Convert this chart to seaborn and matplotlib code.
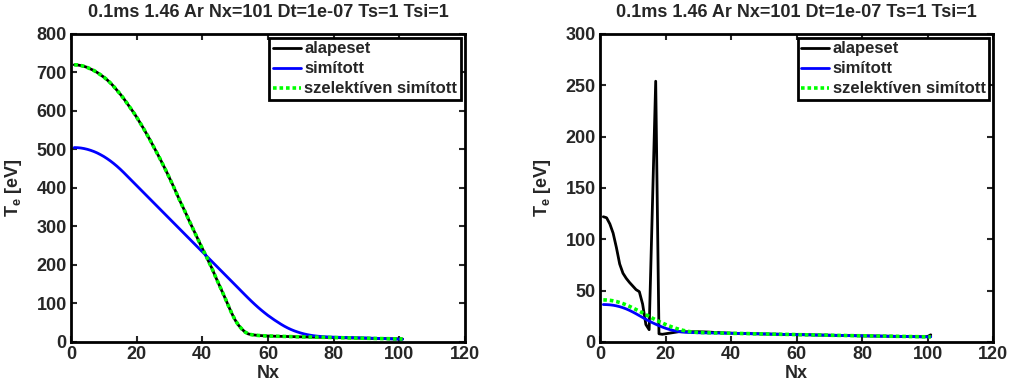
import matplotlib
matplotlib.use("Agg")
import matplotlib.pyplot as plt
import seaborn as sns
import pandas as pd

# Grid index (cells)
nx = list(range(1, 102))

# Left panel: electron temperature profiles [eV]
alapeset_left = [
    720, 719.5, 718, 716, 713, 709, 705, 700, 694, 688,
    681, 673, 664, 654, 644, 633, 621, 609, 597, 584,
    570, 556, 541, 526, 510, 494, 478, 461, 444, 426,
    408, 389, 370, 352, 334, 315, 297, 279, 261, 243,
    226, 208, 190, 170, 151, 132, 113, 93, 74, 57,
    44, 34, 26, 21, 19, 18, 17, 16.5, 16, 15.6,
    15.3, 15.0, 14.8, 14.6, 14.4, 14.2, 14.0, 13.8, 13.6, 13.4,
    13.2, 13.0, 12.8, 12.6, 12.4, 12.3, 12.1, 12.0, 11.8, 11.6,
    11.4, 11.2, 11.0, 10.8, 10.6, 10.4, 10.2, 10.0, 9.8, 9.7,
    9.5, 9.3, 9.2, 9.0, 8.8, 8.7, 8.5, 8.3, 8.2, 8.0, 7.9,
]
simitott_left = [
    505, 504.7, 503.9, 502.4, 500.4, 497.8, 494.7, 491, 486.6, 481.8,
    476.3, 470.3, 463.7, 456.6, 448.9, 440.7, 432.1, 423.5, 414.9, 406.3,
    397.7, 389.1, 380.5, 371.9, 363.3, 354.7, 346.1, 337.5, 328.9, 320.3,
    311.7, 303.1, 294.5, 285.9, 277.3, 268.7, 260.1, 251.5, 242.9, 234.3,
    225.7, 217.1, 208.5, 199.9, 191.3, 182.7, 174.1, 165.5, 156.9, 148.3,
    139.7, 131, 122.4, 113.9, 105.6, 97.6, 89.9, 82.6, 75.7, 69,
    63, 57, 51.5, 46, 41, 36.5, 32.5, 29, 26, 23.3,
    21, 19.1, 17.5, 16.2, 15.2, 14.4, 13.8, 13.3, 12.9, 12.6,
    12.3, 12.1, 11.9, 11.7, 11.5, 11.3, 11.1, 10.9, 10.7, 10.4,
    10.1, 9.8, 9.5, 9.2, 8.9, 8.6, 8.3, 8.0, 7.7, 7.4, 7.1,
]
szelektiv_left = list(alapeset_left)

# Right panel: electron temperature profiles [eV]
alapeset_right = [
    122, 121, 115, 106, 92, 76, 67, 62, 58, 54.5,
    51, 49, 37, 17, 12, 133, 254, 8, 7.5, 8,
    8.5, 9, 9.5, 10, 10, 10, 10, 10, 10, 10,
    9.9, 9.8, 9.7, 9.5, 9.3, 9.2, 9.0, 8.9, 8.7, 8.6,
    8.5, 8.4, 8.3, 8.2, 8.2, 8.1, 8.0, 8.0, 7.9, 7.8,
    7.8, 7.7, 7.6, 7.6, 7.5, 7.4, 7.4, 7.3, 7.3, 7.2,
    7.1, 7.1, 7.0, 7.0, 6.9, 6.8, 6.8, 6.7, 6.7, 6.6,
    6.5, 6.5, 6.4, 6.4, 6.3, 6.2, 6.2, 6.1, 6.1, 6.0,
    6.0, 5.9, 5.9, 5.8, 5.8, 5.7, 5.7, 5.6, 5.6, 5.5,
    5.5, 5.4, 5.4, 5.3, 5.3, 5.2, 5.2, 5.1, 5.1, 5.3, 7.0,
]
simitott_right = [
    36.5, 36.4, 36.2, 35.8, 35.2, 34.4, 33.4, 32.2, 30.8, 29.2,
    27.5, 25.7, 23.9, 22.1, 20.4, 18.8, 17.3, 15.9, 14.6, 13.4,
    12.4, 11.5, 10.8, 10.2, 9.8, 9.5, 9.3, 9.2, 9.1, 9.0,
    8.9, 8.9, 8.8, 8.8, 8.7, 8.7, 8.6, 8.6, 8.5, 8.5,
    8.4, 8.4, 8.3, 8.2, 8.2, 8.1, 8.0, 8.0, 7.9, 7.8,
    7.8, 7.7, 7.6, 7.6, 7.5, 7.4, 7.4, 7.3, 7.3, 7.2,
    7.1, 7.1, 7.0, 7.0, 6.9, 6.8, 6.8, 6.7, 6.7, 6.6,
    6.5, 6.5, 6.4, 6.4, 6.3, 6.2, 6.2, 6.1, 6.1, 6.0,
    6.0, 5.9, 5.9, 5.8, 5.8, 5.7, 5.7, 5.6, 5.6, 5.5,
    5.5, 5.4, 5.4, 5.3, 5.3, 5.2, 5.2, 5.1, 5.1, 5.0, 5.0,
]
szelektiv_right = [
    41, 40.9, 40.6, 40.1, 39.4, 38.5, 37.4, 36.1, 34.7, 33.2,
    31.6, 30.0, 28.3, 26.6, 24.9, 23.2, 21.6, 20.0, 18.5, 17.1,
    15.8, 14.6, 13.5, 12.5, 11.6, 10.9, 10.3, 9.8, 9.5, 9.3,
    9.2, 9.1, 9.0, 8.9, 8.8, 8.8, 8.7, 8.6, 8.6, 8.5,
    8.4, 8.4, 8.3, 8.2, 8.2, 8.1, 8.0, 8.0, 7.9, 7.8,
    7.8, 7.7, 7.6, 7.6, 7.5, 7.4, 7.4, 7.3, 7.3, 7.2,
    7.1, 7.1, 7.0, 7.0, 6.9, 6.8, 6.8, 6.7, 6.7, 6.6,
    6.5, 6.5, 6.4, 6.4, 6.3, 6.2, 6.2, 6.1, 6.1, 6.0,
    6.0, 5.9, 5.9, 5.8, 5.8, 5.7, 5.7, 5.6, 5.6, 5.5,
    5.5, 5.4, 5.4, 5.3, 5.3, 5.2, 5.2, 5.1, 5.1, 5.0, 5.0,
]

labels = ["alapeset", "simított", "szelektíven simított"]
title = "0.1ms 1.46 Ar Nx=101 Dt=1e-07 Ts=1 Tsi=1"
left_yticks = [0, 100, 200, 300, 400, 500, 600, 700, 800]
right_yticks = [0, 50, 100, 150, 200, 250, 300]
xticks = [0, 20, 40, 60, 80, 100, 120]

sns.set_theme(style="ticks")
plt.rcParams["font.family"] = ["Liberation Sans", "DejaVu Sans"]
plt.rcParams["font.weight"] = "bold"
plt.rcParams["mathtext.fontset"] = "custom"
plt.rcParams["mathtext.rm"] = "Liberation Sans:bold"
plt.rcParams["mathtext.it"] = "Liberation Sans:bold"
plt.rcParams["mathtext.bf"] = "Liberation Sans:bold"

FS = 13
LEG_FS = 12

fig = plt.figure(figsize=(10.11, 3.85), dpi=100)
fig.patch.set_facecolor("white")
ax_l = fig.add_axes([0.0702, 0.1117, 0.3897, 0.80])
ax_r = fig.add_axes([0.5935, 0.1117, 0.3887, 0.80])

styles = [
    dict(color="black", linestyle="-", linewidth=2.0),
    dict(color="#0000ff", linestyle="-", linewidth=2.0),
    dict(color="#00ff00", linestyle=(0, (1, 0.8)), linewidth=2.6),
]


def draw(ax, series, yticks):
    for vals, lab, st in zip(series, labels, styles):
        df = pd.DataFrame({"Nx": nx, "Te": vals})
        sns.lineplot(data=df, x="Nx", y="Te", ax=ax, label=lab, **st)
    ax.set_xlim(0, 120)
    ax.set_ylim(yticks[0], yticks[-1])
    ax.set_xticks(xticks)
    ax.set_yticks(yticks)
    ax.set_facecolor("white")
    ax.tick_params(direction="in", length=4, width=1.5, top=True, right=True,
                   labelsize=FS, pad=3)
    for lbl in ax.get_xticklabels() + ax.get_yticklabels():
        lbl.set_fontweight("bold")
    for sp in ax.spines.values():
        sp.set_visible(True)
        sp.set_linewidth(2.0)
        sp.set_color("black")
    ax.set_xlabel("Nx", fontsize=FS, fontweight="bold", labelpad=1)
    ax.set_ylabel(r"T$_\mathrm{e}$ [eV]", fontsize=FS, fontweight="bold", labelpad=9)
    ax.set_title(title, fontsize=FS, fontweight="bold", pad=12)
    leg = ax.legend(loc="upper right", frameon=True, fancybox=False,
                    borderaxespad=0.25, borderpad=0.2, labelspacing=0.3,
                    handlelength=1.7, handletextpad=0.2,
                    prop=dict(size=LEG_FS, weight="bold"))
    leg.get_frame().set_edgecolor("black")
    leg.get_frame().set_linewidth(2.0)
    leg.get_frame().set_alpha(1)


draw(ax_l, [alapeset_left, simitott_left, szelektiv_left], left_yticks)
draw(ax_r, [alapeset_right, simitott_right, szelektiv_right], right_yticks)

fig.savefig("out.png", dpi=100, facecolor="white")
